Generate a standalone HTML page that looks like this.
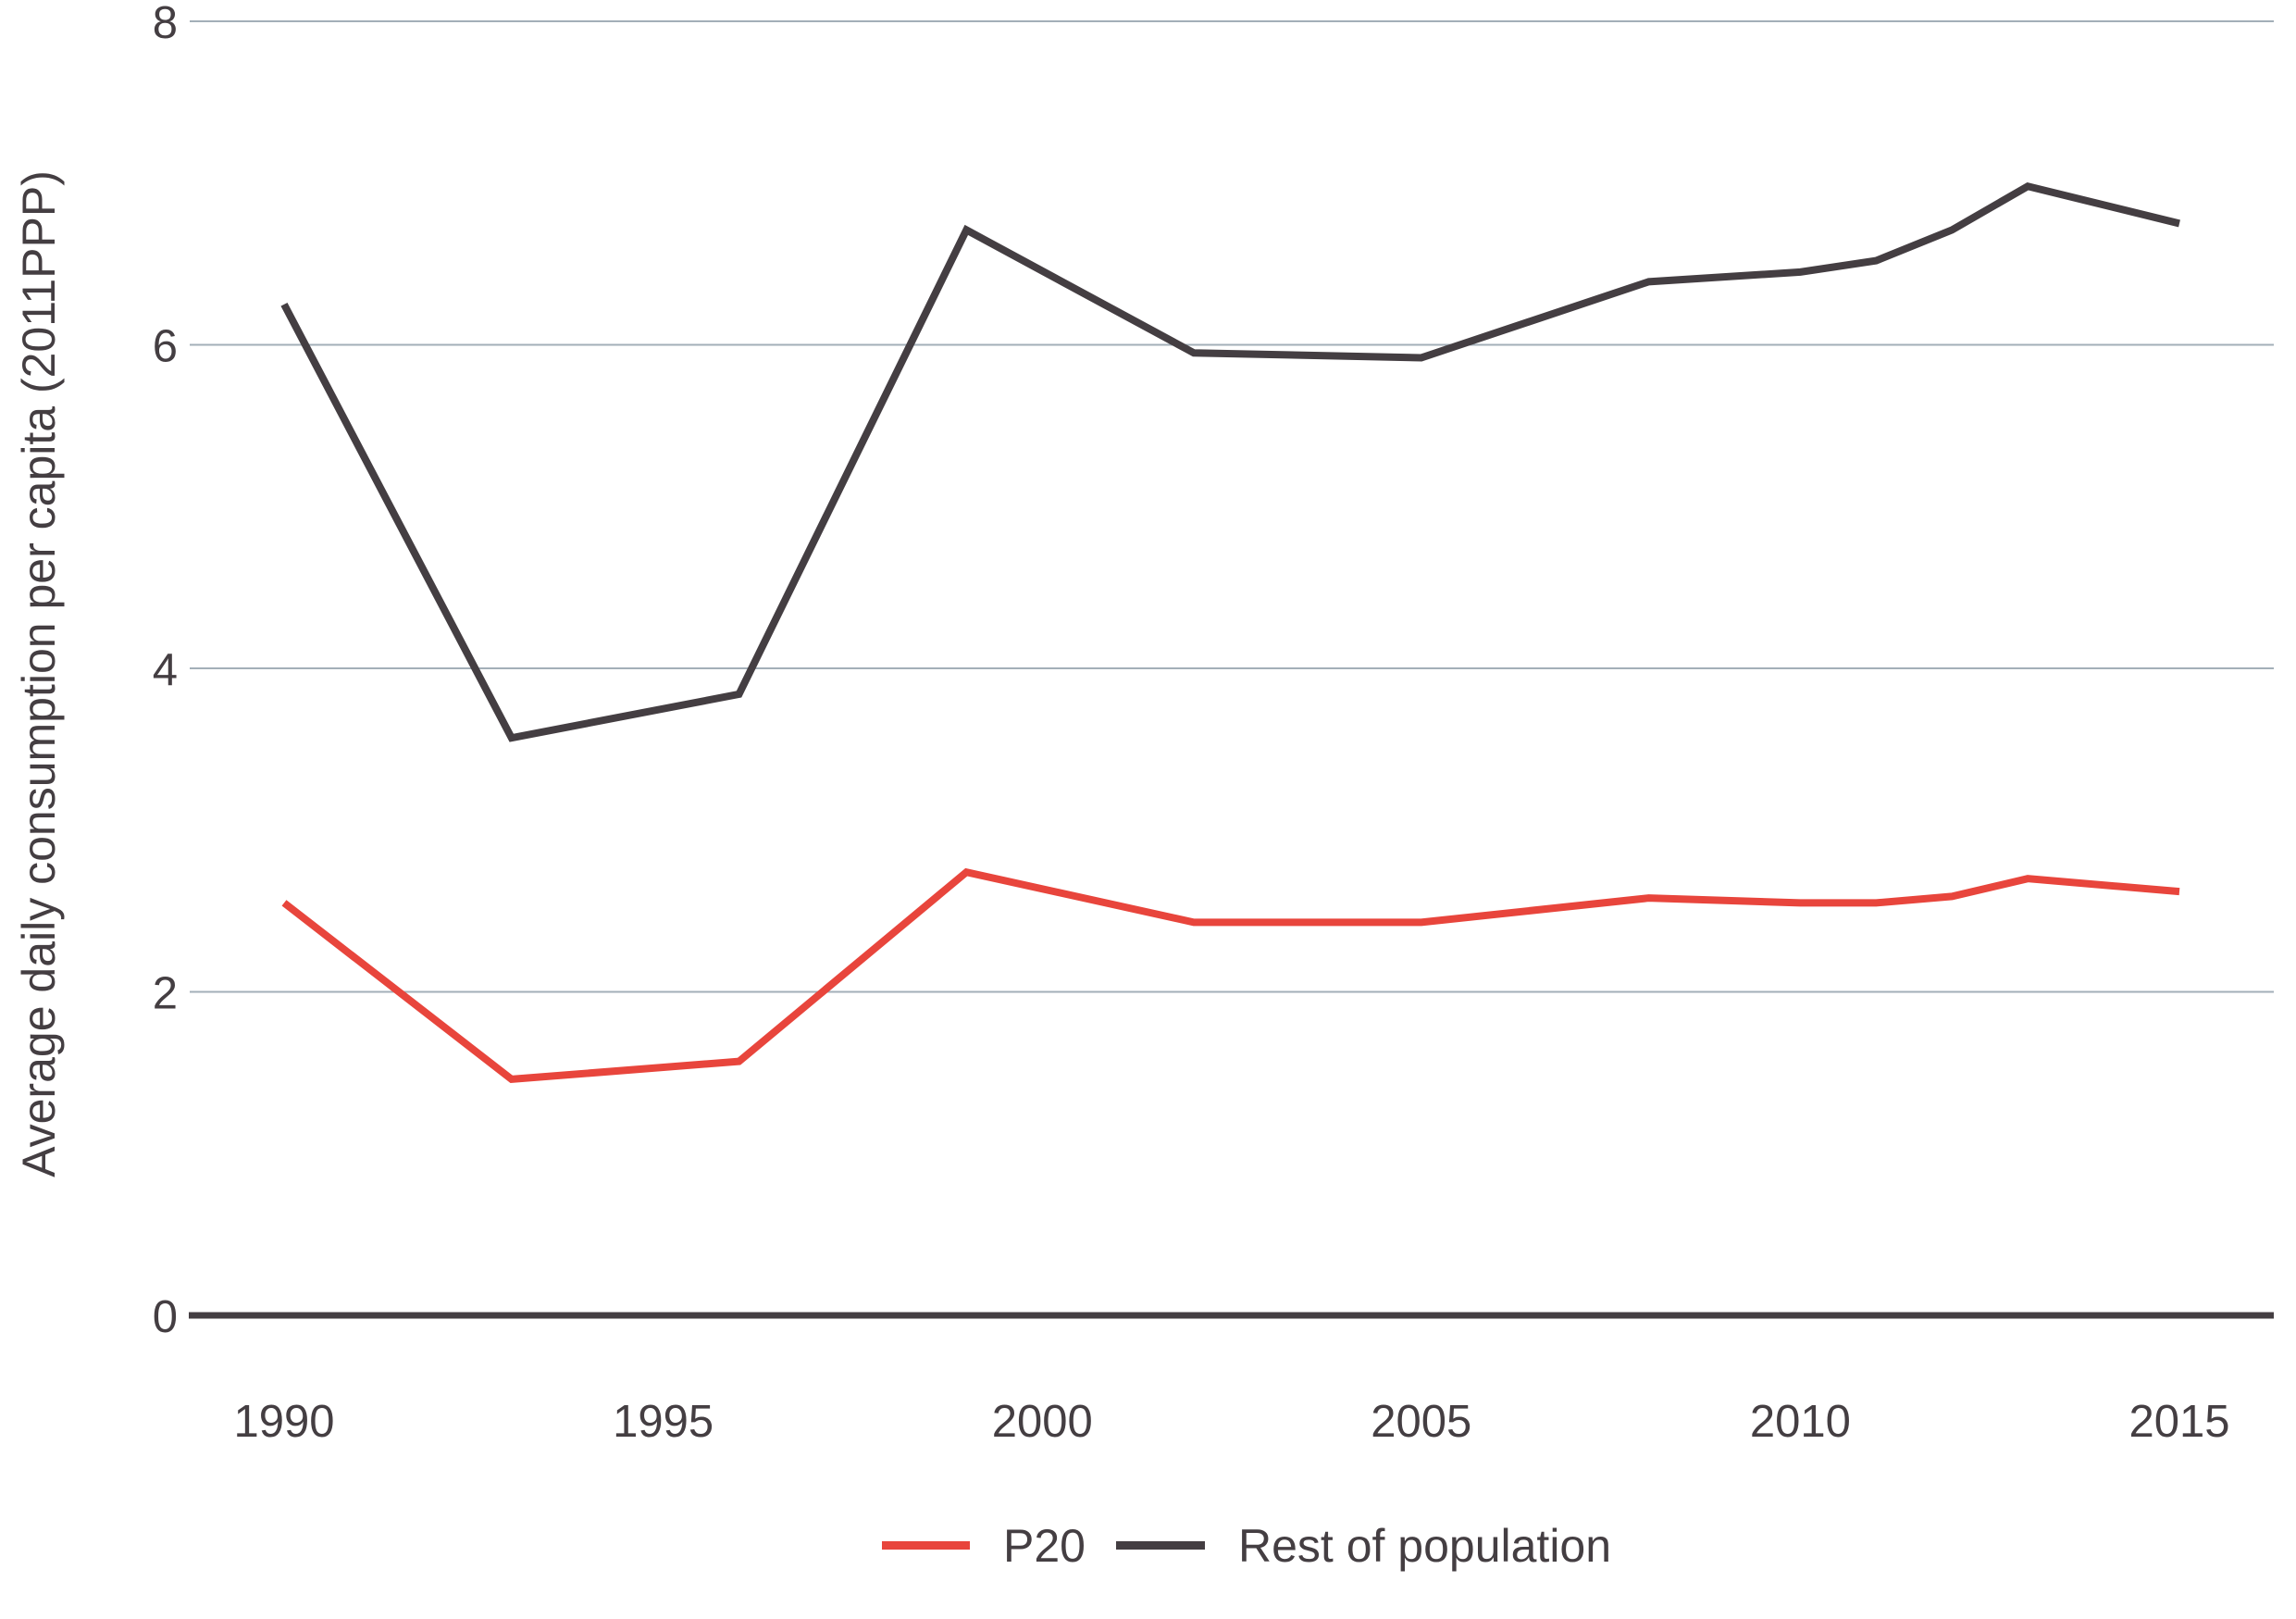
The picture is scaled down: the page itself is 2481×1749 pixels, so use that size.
<!DOCTYPE html>
<html><head><meta charset="utf-8"><style>
html,body{margin:0;padding:0;background:#fff;}
svg{display:block;font-family:"Liberation Sans",sans-serif;}
</style></head><body>
<svg id="chart" width="2481" height="1749" viewBox="0 0 2481 1749" xmlns="http://www.w3.org/2000/svg">
<g id="grid"></g>
<g id="yticks"></g>
<g id="xticks"></g>
<text transform="translate(59,728) rotate(-90)" text-anchor="middle" font-size="50" fill="#443e42">Average daily consumption per capita (2011PPP)</text>
<g id="series"></g>
<g>
<rect x="953" y="1665" width="95" height="9" fill="#e8453c"/>
<text x="1084" y="1687" font-size="50" fill="#443e42">P20</text>
<rect x="1206" y="1665" width="96" height="9" fill="#443e42"/>
<text x="1338" y="1687" font-size="50" fill="#443e42">Rest of population</text>
</g>
</svg>
<script>
const years = [1990,1993,1996,1999,2002,2005,2008,2010,2011,2012,2013,2015];
const p20 = [2.55,1.46,1.57,2.74,2.43,2.43,2.58,2.55,2.55,2.59,2.70,2.62];
const rest = [6.25,3.57,3.84,6.71,5.95,5.92,6.39,6.45,6.52,6.71,6.98,6.75];
const yTicks = [0,2,4,6,8];
const xTicks = [1990,1995,2000,2005,2010,2015];

const NS="http://www.w3.org/2000/svg";
const X0=307, XPY=81.92, Y0=1421, YPU=174.75;
const xs = y => X0 + (y-1990)*XPY;
const ys = v => Y0 - v*YPU;
const grid=document.getElementById('grid'), yt=document.getElementById('yticks'), xt=document.getElementById('xticks'), ser=document.getElementById('series');
yTicks.forEach(t=>{
  const l=document.createElementNS(NS,'line');
  
  
  l.setAttribute('x1',t===0?204:205);l.setAttribute('x2',2457);
  l.setAttribute('y1',ys(t));l.setAttribute('y2',ys(t));
  l.setAttribute('stroke',t===0?'#443e42':'#a3afb8');l.setAttribute('stroke-width',t===0?7:2);
  grid.appendChild(l);
  const tx=document.createElementNS(NS,'text');
  
  
  tx.setAttribute('x',192);tx.setAttribute('y',ys(t)+18);tx.setAttribute('text-anchor','end');
  tx.setAttribute('font-size','49');tx.setAttribute('fill','#443e42');tx.textContent=t;
  yt.appendChild(tx);
});
xTicks.forEach(t=>{
  const tx=document.createElementNS(NS,'text');
  
  
  tx.setAttribute('x',xs(t));tx.setAttribute('y',1552);tx.setAttribute('text-anchor','middle');
  tx.setAttribute('font-size','49');tx.setAttribute('fill','#443e42');tx.textContent=t;
  xt.appendChild(tx);
});
function line(vals,color,name){
  const p=document.createElementNS(NS,'polyline');
  
  
  p.setAttribute('points',vals.map((v,i)=>xs(years[i])+','+ys(v)).join(' '));
  p.setAttribute('fill','none');p.setAttribute('stroke',color);p.setAttribute('stroke-width','8');
  ser.appendChild(p);
}
line(rest,'#443e42','rest-of-population-line');
line(p20,'#e8453c','p20-line');
</script>
</body></html>
